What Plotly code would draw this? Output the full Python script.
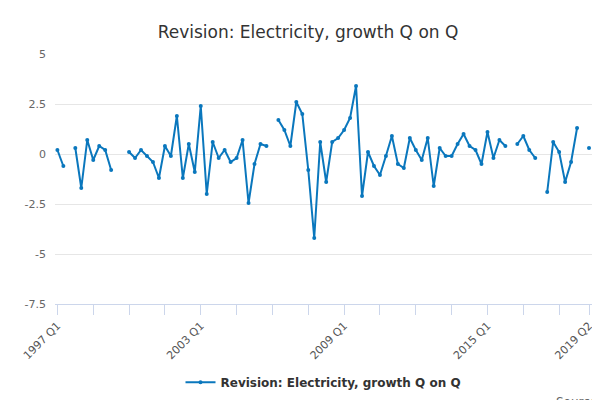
import plotly.graph_objects as go

# quarterly labels 1997 Q1 .. 2019 Q2
quarters = [f"{y} Q{q}" for y in range(1997, 2020) for q in range(1, 5)][:90]

# growth Q on Q, None = missing
growth = [0.2, -0.6, None, 0.3, -1.7, 0.7, -0.3, 0.4, 0.2, -0.8,
          None, None, 0.1, -0.2, 0.2, -0.1, -0.4, -1.2, 0.4, -0.1,
          1.9, -1.2, 0.5, -0.9, 2.4, -2.0, 0.6, -0.2, 0.2, -0.4,
          -0.2, 0.7, -2.45, -0.5, 0.5, 0.4, None, 1.7, 1.2, 0.4,
          2.6, 2.0, -0.8, -4.2, 0.6, -1.4, 0.6, 0.8, 1.2, 1.8,
          3.4, -2.1, 0.1, -0.6, -1.05, -0.1, 0.9, -0.5, -0.7, 0.8,
          0.2, -0.3, 0.8, -1.6, 0.3, -0.1, -0.1, 0.5, 1.0, 0.4,
          0.2, -0.5, 1.1, -0.2, 0.7, 0.4, None, 0.5, 0.9, 0.2,
          -0.2, None, -1.9, 0.6, 0.1, -1.4, -0.4, 1.3, None, 0.3]

tick_idx = list(range(0, 90, 6)) + [89]
labelled = {"1997 Q1", "2003 Q1", "2009 Q1", "2015 Q1", "2019 Q2"}
tickvals = [quarters[i] for i in tick_idx]
ticktext = [q if q in labelled else "" for q in tickvals]

fig = go.Figure()
fig.add_trace(go.Scatter(
    x=quarters, y=growth, mode="lines+markers",
    name="<b>Revision: Electricity, growth Q on Q</b>",
    line=dict(color="#0a77bd", width=2),
    marker=dict(size=4, color="#0a77bd"),
    connectgaps=False,
))

fig.update_layout(
    width=600, height=400,
    paper_bgcolor="white", plot_bgcolor="white",
    font=dict(family="DejaVu Sans", color="#555555", size=11),
    title=dict(text="Revision: Electricity, growth Q on Q", x=0.5, y=0.955,
               xanchor="center", font=dict(size=17, color="#333333")),
    margin=dict(l=47, r=16, t=46, b=103),
    showlegend=True,
    legend=dict(orientation="h", x=0.5, xanchor="center", y=-0.25, yanchor="top",
                font=dict(size=12, color="#333333")),
    xaxis=dict(type="category", range=[-0.4, 89.5], tickmode="array",
               tickvals=tickvals, ticktext=ticktext, tickangle=-45,
               showgrid=False, showline=True, linecolor="#ccd6eb",
               ticks="outside", tickcolor="#ccd6eb", ticklen=10,
               automargin=False,
               tickfont=dict(size=11, color="#555555")),
    yaxis=dict(range=[-7.5, 5], tickvals=[-7.5, -5, -2.5, 0, 2.5, 5],
               ticktext=["-7.5", "-5", "-2.5", "0", "2.5", "5"],
               gridcolor="#e6e6e6", zeroline=False, showline=False,
               automargin=False, ticklabelstandoff=8,
               tickfont=dict(size=11, color="#666666")),
)
fig.add_annotation(text="Source:", xref="paper", yref="paper", x=1.02, y=-0.355,
                   xanchor="right", yanchor="top", showarrow=False,
                   font=dict(size=12, color="#666666"))

fig.write_html("out.html")
